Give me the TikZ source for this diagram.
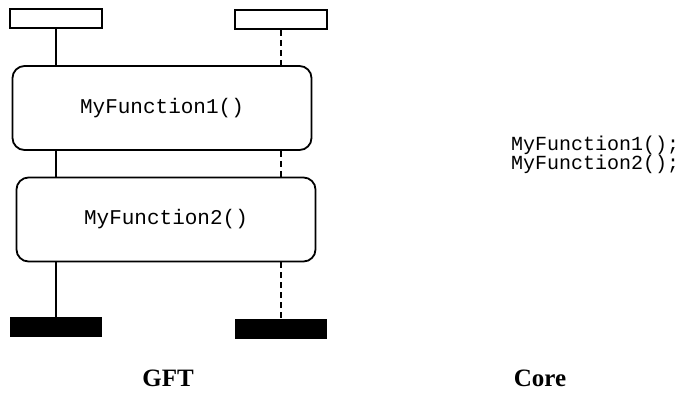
\documentclass[tikz,border=0pt]{standalone}
\usepackage{fontspec}
\setmainfont{Liberation Serif}
\setmonofont{Liberation Mono}
\begin{document}
\begin{tikzpicture}[x=1pt,y=-1pt,
    inst/.style={draw,line width=1.8pt,minimum width=92pt,minimum height=19pt,inner sep=0pt},
    endbox/.style={fill=black,minimum width=92pt,minimum height=20pt,inner sep=0pt},
    fnbox/.style={draw,line width=1.8pt,rounded corners=12pt,minimum width=299pt,minimum height=84pt,
        font=\ttfamily\fontsize{21}{25}\selectfont},
    life/.style={line width=1.8pt},
    dlife/.style={line width=1.8pt,dash pattern=on 6pt off 4pt},
    title/.style={font=\bfseries\fontsize{25}{30}\selectfont}]
    \useasboundingbox (0,0) rectangle (690,397);
    % instance heads
    \node[inst] (headA) at (56,18.5) {};
    \node[inst] (headB) at (281,19.5) {};
    % function calls
    \node[fnbox] (fn1) at (162,108) {MyFunction1()};
    \node[fnbox] (fn2) at (166,219.5) {MyFunction2()};
    % instance ends
    \node[endbox] (endA) at (56,327) {};
    \node[endbox] (endB) at (281,328.5) {};

    \draw[life] (headA) -- (headA |- fn1.north);
    \draw[life] (headA |- fn1.south) -- (headA |- fn2.north);
    \draw[life] (endA |- fn2.south) -- (endA);
    \draw[dlife] (headB) -- (headB |- fn1.north);
    \draw[dlife] (headB |- fn1.south) -- (headB |- fn2.north);
    \draw[dlife] (endB |- fn2.south) -- (endB);

    \node[anchor=west,inner sep=0pt,align=left,font=\ttfamily\fontsize{20}{16}\selectfont]
        (code) at (511,155) {MyFunction1();\\MyFunction2();};

    \node[title] (gft) at (168,378) {GFT};
    \node[title] (core) at (540,378) {Core};
\end{tikzpicture}
\end{document}
